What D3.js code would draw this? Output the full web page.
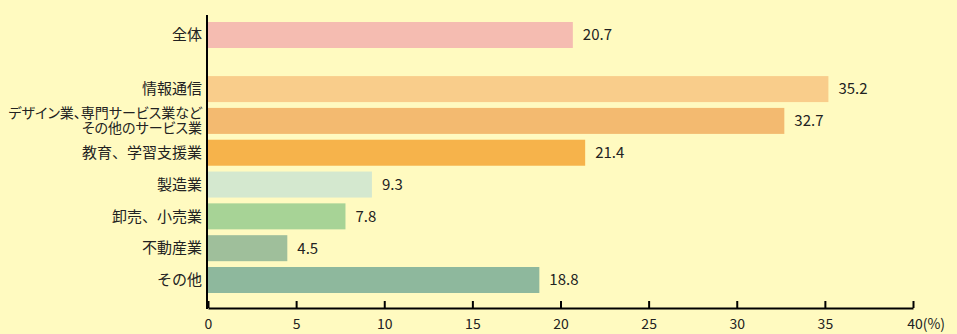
<!DOCTYPE html>
<html>
<head>
<meta charset="utf-8">
<script src="https://cdn.jsdelivr.net/npm/d3@7"></script>
<style>
  html, body { margin: 0; padding: 0; background: #fffac0; }
  svg { display: block; }
  text { font-family: "Noto Sans CJK JP", "Noto Sans", sans-serif; fill: #222; }
</style>
</head>
<body>
<div id="chart"></div>
<script>
// categories (top to bottom); "\n" splits a label over two lines
var categories = [
    '全体',
    '情報通信',
    'デザイン業、専門サービス業など\nその他のサービス業',
    '教育、学習支援業',
    '製造業',
    '卸売、小売業',
    '不動産業',
    'その他'
];
var values = [20.7, 35.2, 32.7, 21.4, 9.3, 7.8, 4.5, 18.8];
var barColors = ['#f5bcb1', '#f9cd8b', '#f3ba70', '#f6b34b', '#d4e8cf', '#a7d396', '#9fbf9b', '#8eb89d'];
var xTicks = [0, 5, 10, 15, 20, 25, 30, 35, 40];

var width = 957, height = 334;
var margin = {top: 15, right: 44, bottom: 26, left: 208};

var svg = d3.select('#chart')
    .append('svg')
    .attr('width', width)
    .attr('height', height);

svg.append('rect')
    .attr('width', width)
    .attr('height', height)
    .attr('fill', '#fffac0');

var x = d3.scaleLinear()
    .domain([0, 40])
    .range([margin.left, width - margin.right]);

// the first row ("全体") sits apart from the others, so rows are placed by slot
function slot(i) {
    return i === 0 ? 0 : i + 0.7;
}
var y = d3.scaleLinear()
    .domain([0, slot(categories.length - 1)])
    .range([35, 280]);
var barH = 26;

var g = svg.append('g');

g.selectAll('rect.bar')
    .data(values)
    .enter()
    .append('rect')
    .attr('class', 'bar')
    .attr('x', x(0))
    .attr('y', function(d, i) { return y(slot(i)) - barH / 2; })
    .attr('width', function(d) { return x(d) - x(0); })
    .attr('height', barH)
    .attr('fill', function(d, i) { return barColors[i]; });

g.selectAll('text.value')
    .data(values)
    .enter()
    .append('text')
    .attr('class', 'value')
    .attr('x', function(d) { return x(d) + 10; })
    .attr('y', function(d, i) { return y(slot(i)); })
    .attr('dy', '0.36em')
    .style('font-size', '15px')
    .text(function(d) { return d.toFixed(1); });

// category labels
var labels = g.selectAll('text.cat')
    .data(categories)
    .enter()
    .append('text')
    .attr('class', 'cat')
    .attr('text-anchor', 'end')
    .attr('x', x(0) - 6)
    .attr('y', function(d, i) { return y(slot(i)); })
    .style('font-size', function(d) { return d.indexOf('\n') >= 0 ? '14px' : '15px'; })
    .style('font-feature-settings', function(d) { return d.indexOf('\n') >= 0 ? '"palt"' : 'normal'; });

labels.each(function(d) {
    var lines = d.split('\n');
    var t = d3.select(this);
    lines.forEach(function(line, k) {
        t.append('tspan')
            .attr('x', x(0) - 6)
            .attr('dy', k === 0 ? (0.35 - (lines.length - 1) * 0.53) + 'em' : '1.06em')
            .text(line);
    });
});

// x axis
var xAxis = d3.axisBottom(x)
    .tickValues(xTicks)
    .tickSize(-7)
    .tickSizeOuter(0)
    .tickPadding(11)
    .tickFormat(function(d) { return d === 40 ? '40(%)' : d; });

var axisY = 308;
var ax = svg.append('g')
    .attr('transform', 'translate(0,' + axisY + ')')
    .call(xAxis);
ax.select('.domain').attr('stroke', '#000').attr('stroke-width', 2);
ax.selectAll('.tick line').attr('stroke', '#000').attr('stroke-width', 2);
ax.selectAll('.tick text')
    .style('font-size', '14px')
    .style('font-family', '"Noto Sans CJK JP", "Noto Sans", sans-serif')
    .attr('fill', '#222')
    .attr('dx', function(d) { return d === 40 ? '0.9em' : 0; });

// y axis line
svg.append('line')
    .attr('x1', x(0) - 1)
    .attr('x2', x(0) - 1)
    .attr('y1', margin.top)
    .attr('y2', axisY + 1)
    .attr('stroke', '#000')
    .attr('stroke-width', 2);
</script>
</body>
</html>
